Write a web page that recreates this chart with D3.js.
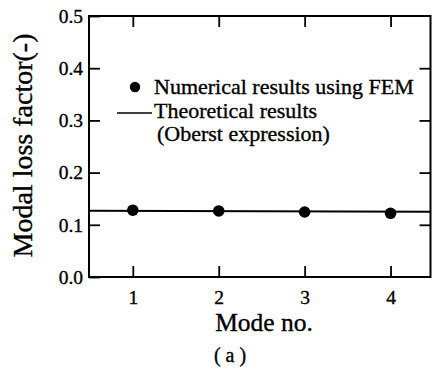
<!DOCTYPE html>
<html>
<head>
<meta charset="utf-8">
<script src="https://cdn.jsdelivr.net/npm/d3@7"></script>
<style>
  body { margin: 0; background: #fff; }
  svg text { font-family: "Liberation Serif", "Times New Roman", serif; fill: #000; stroke: #000; stroke-width: 0.35px; }
</style>
</head>
<body>
<svg id="svg" width="432" height="370"></svg>
<script>
(function() {
  'use strict';

  // data
  var modes = [1, 2, 3, 4];
  var femLoss = [0.128, 0.1265, 0.1245, 0.122];
  var theoryMode = [0.49, 4.465];
  var theoryLoss = [0.127, 0.125];
  var yTicks = [0.0, 0.1, 0.2, 0.3, 0.4, 0.5];
  var legendLabels = ["Numerical results using FEM", "Theoretical results", "(Oberst expression)"];

  var svg = d3.select("#svg");

  var x = d3.scaleLinear().domain([0.49, 4.465]).range([89, 430.5]);
  var y = d3.scaleLinear().domain([0, 0.5]).range([277, 16]);

  var tick = 11;

  // bottom axis
  svg.append("g")
    .attr("transform", "translate(0," + y(0) + ")")
    .call(d3.axisBottom(x).tickValues(modes).tickFormat(d3.format("d"))
      .tickSizeInner(-tick).tickSizeOuter(0).tickPadding(13))
    .call(styleAxis);

  // top axis, ticks only
  svg.append("g")
    .attr("transform", "translate(0," + y(0.5) + ")")
    .call(d3.axisTop(x).tickValues(modes).tickFormat("")
      .tickSizeInner(-tick).tickSizeOuter(0))
    .call(styleAxis);

  // left axis
  svg.append("g")
    .attr("transform", "translate(" + x.range()[0] + ",0)")
    .call(d3.axisLeft(y).tickValues(yTicks).tickFormat(d3.format(".1f"))
      .tickSizeInner(-tick).tickSizeOuter(0).tickPadding(6))
    .call(styleAxis);

  // right axis, ticks only
  svg.append("g")
    .attr("transform", "translate(" + x.range()[1] + ",0)")
    .call(d3.axisRight(y).tickValues(yTicks.slice(1, -1)).tickFormat("")
      .tickSizeInner(-tick).tickSizeOuter(0))
    .call(styleAxis);

  function styleAxis(g) {
    g.attr("font-family", null);
    g.select(".domain").remove();
    g.selectAll("line").attr("stroke", "#000").attr("stroke-width", 1.8);
    g.selectAll("text")
      .style("font-family", '"Liberation Serif", "Times New Roman", serif')
      .style("font-size", "19.5px")
      .attr("fill", "#000");
  }

  // frame
  svg.append("rect")
    .attr("x", x.range()[0])
    .attr("y", y(0.5))
    .attr("width", x.range()[1] - x.range()[0])
    .attr("height", y(0) - y(0.5))
    .attr("fill", "none")
    .attr("stroke", "#000")
    .attr("stroke-width", 2);

  // theoretical line
  var line = d3.line()
    .x(function(d, i) { return x(theoryMode[i]); })
    .y(function(d) { return y(d); });

  svg.append("path")
    .attr("d", line(theoryLoss))
    .attr("fill", "none")
    .attr("stroke", "#000")
    .attr("stroke-width", 2);

  // FEM points
  svg.selectAll(".fem")
    .data(femLoss)
    .enter().append("circle")
    .attr("class", "fem")
    .attr("cx", function(d, i) { return x(modes[i]); })
    .attr("cy", function(d) { return y(d); })
    .attr("r", 5.8)
    .attr("fill", "#000");

  // legend
  var legend = svg.append("g");
  legend.append("circle")
    .attr("cx", 135).attr("cy", 87).attr("r", 5.2).attr("fill", "#000");
  legend.append("line")
    .attr("x1", 117).attr("x2", 152).attr("y1", 113).attr("y2", 113)
    .attr("stroke", "#000").attr("stroke-width", 1.6);
  legend.selectAll("text")
    .data(legendLabels)
    .enter().append("text")
    .attr("x", function(d, i) { return i === 2 ? 157 : 154; })
    .attr("y", function(d, i) { return 94 + i * 23.5; })
    .style("font-size", "22px")
    .text(function(d) { return d; });

  // axis titles
  svg.append("text")
    .attr("transform", "translate(32,145.5) rotate(-90)")
    .attr("text-anchor", "middle")
    .style("font-size", "28px")
    .text("Modal loss factor(-)");

  svg.append("text")
    .attr("x", 264).attr("y", 331)
    .attr("text-anchor", "middle")
    .style("font-size", "25.5px")
    .text("Mode no.");

  svg.append("text")
    .attr("x", 230).attr("y", 362)
    .attr("text-anchor", "middle")
    .style("font-size", "20px")
    .text("( a )");
}());
</script>
</body>
</html>
